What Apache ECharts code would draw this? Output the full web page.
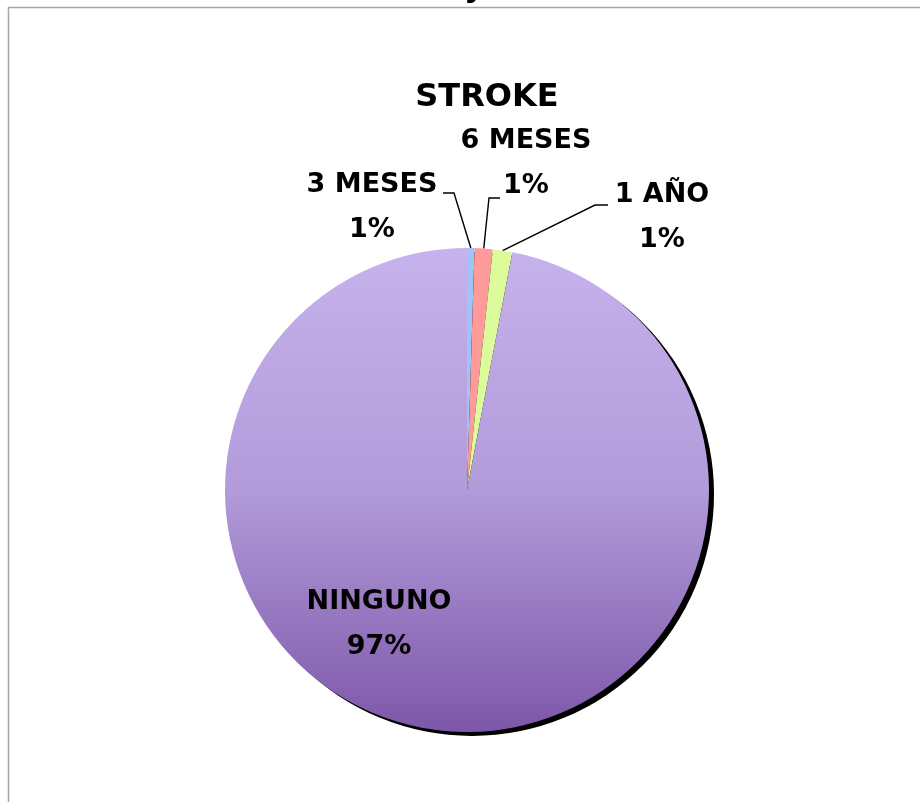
<!DOCTYPE html>
<html>
<head>
<meta charset="utf-8">
<script src="https://cdn.jsdelivr.net/npm/echarts@6/dist/echarts.min.js"></script>
<style>
  html, body { margin: 0; padding: 0; background: #fff; }
  #chart { width: 920px; height: 802px; }
</style>
</head>
<body>
<div id="chart"></div>
<script>
// datos del grafico
const categories = ['3 MESES', '6 MESES', '1 AÑO', 'NINGUNO']
const values = [0.5, 1.2, 1.3, 97.0]

const sliceColors = ['#9ec4fa', '#ff9a9a', '#dcfc9c', null]

// posicion de etiquetas (centro del bloque) y codo de la linea guia
const labelAnchors = [[372, 207], [526, 163], [662, 217], [379, 624]]
const lineBends = [[[454, 193], [443, 193]], [[489, 198], [500, 198]], [[595, 205], [608, 205]], null]

const center = [467, 490]
const radius = 242

const chart = echarts.init(document.getElementById('chart'))

const ninguno = new echarts.graphic.LinearGradient(0, 0, 0, 1, [
  { offset: 0, color: '#c6b2ec' },
  { offset: 0.5, color: '#b29bd9' },
  { offset: 1, color: '#7d57a9' }
])

chart.setOption({
  backgroundColor: '#fff',
  animation: false,
  graphic: [
    {
      type: 'rect',
      shape: { x: 8.5, y: 7.5, width: 930, height: 820 },
      style: { fill: 'none', stroke: '#a6a6a6', lineWidth: 1.5 },
      z: 0
    },
    {
      type: 'text',
      x: 472, y: -12,
      style: {
        text: 'meses y al año',
        font: 'bold 32px "DejaVu Sans"',
        fill: '#000',
        align: 'center',
        verticalAlign: 'middle'
      },
      z: 10
    },
    {
      type: 'text',
      x: 487, y: 98,
      style: {
        text: 'STROKE',
        font: 'bold 32px "DejaVu Sans"',
        fill: '#000',
        align: 'center',
        verticalAlign: 'middle'
      },
      z: 10
    }
  ],
  series: [
    {
      // sombra
      type: 'pie',
      silent: true,
      center: [center[0] + 5, center[1] + 4],
      radius: radius,
      label: { show: false },
      labelLine: { show: false },
      itemStyle: { color: '#000' },
      data: [{ value: 1, name: 'sombra' }],
      z: 1
    },
    {
      type: 'pie',
      center: center,
      radius: radius,
      startAngle: 90,
      clockwise: true,
      percentPrecision: 0,
      avoidLabelOverlap: false,
      z: 2,
      label: {
        show: true,
        position: 'outside',
        formatter: '{b}\n{d}%',
        color: '#000',
        fontFamily: 'DejaVu Sans',
        fontWeight: 'bold',
        fontSize: 27,
        lineHeight: 45,
        align: 'center'
      },
      labelLine: {
        show: true,
        length: 10,
        length2: 10,
        lineStyle: { color: '#000', width: 1.4 }
      },
      labelLayout: function (params) {
        const i = params.dataIndex
        const a = labelAnchors[i]
        const res = { x: a[0], y: a[1], align: 'center', verticalAlign: 'middle' }
        if (lineBends[i] && params.labelLinePoints) {
          const p0 = params.labelLinePoints[0]
          res.labelLinePoints = [p0, lineBends[i][0], lineBends[i][1]]
        }
        return res
      },
      data: categories.map((name, i) => ({
        name: name,
        value: values[i],
        itemStyle: { color: sliceColors[i] || ninguno },
        label: i === 3 ? { position: 'inside' } : undefined,
        labelLine: i === 3 ? { show: false } : undefined
      }))
    }
  ]
})
</script>
</body>
</html>
